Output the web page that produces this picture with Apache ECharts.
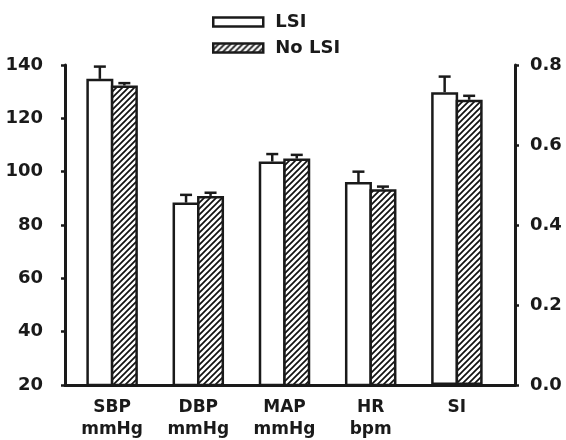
<!DOCTYPE html>
<html>
<head>
<meta charset="utf-8">
<script src="https://cdn.jsdelivr.net/npm/echarts@6/dist/echarts.min.js"></script>
<style>html,body{margin:0;padding:0;background:#fff}#chart{width:566px;height:440px}</style>
</head>
<body>
<div id="chart"></div>
<script>
const categories = ['SBP\nmmHg', 'DBP\nmmHg', 'MAP\nmmHg', 'HR\nbpm', 'SI'];
// categories read on the right-hand axis
const rightAxisCats = ['SI'];
const lsiMean = [134.8, 88.4, 103.8, 96.1, 0.732];
const lsiErr = [4.6, 2.9, 2.8, 3.9, 0.039];
const noLsiMean = [132.3, 90.9, 104.9, 93.4, 0.713];
const noLsiErr = [0.9, 1.2, 1.4, 1.0, 0.010];
const leftTicks = {min: 20, max: 140, interval: 20};
const rightTicks = {min: 0, max: 0.8, interval: 0.2};

const INK = '#1a1a1a';
const FONT = 'DejaVu Sans';
const BORDER = 2.5;
const BAR_W = 27;

const onRight = categories.map(c => rightAxisCats.includes(c));
const pick = (arr, right) => arr.map((v, i) => onRight[i] === right ? v : '-');

function hatch() {
  const c = document.createElement('canvas');
  c.width = 6; c.height = 6;
  const g = c.getContext('2d');
  g.fillStyle = '#fff';
  g.fillRect(0, 0, 6, 6);
  g.strokeStyle = '#111';
  g.lineWidth = 1.7;
  g.beginPath();
  g.moveTo(-1, 7); g.lineTo(7, -1);
  g.moveTo(-1, 1); g.lineTo(1, -1);
  g.moveTo(5, 7); g.lineTo(7, 5);
  g.stroke();
  return c;
}
const hatchFill = {image: hatch(), repeat: 'repeat'};

function errSeries(xi, yi, right) {
  const data = [];
  categories.forEach((c, i) => {
    if (onRight[i] !== right) return;
    data.push([i, lsiMean[i], lsiMean[i] + lsiErr[i], -1]);
    data.push([i, noLsiMean[i], noLsiMean[i] + noLsiErr[i], 1]);
  });
  return {
    type: 'custom', xAxisIndex: xi, yAxisIndex: yi, z: 5, silent: true,
    renderItem(params, api) {
      const side = api.value(3);
      const base = api.coord([api.value(0), api.value(1)]);
      const top = api.coord([api.value(0), api.value(2)]);
      const x = base[0] + side * (BAR_W - BORDER) / 2;
      const st = {stroke: INK, lineWidth: 2.5};
      return {type: 'group', children: [
        {type: 'line', shape: {x1: x, y1: base[1], x2: x, y2: top[1]}, style: st},
        {type: 'line', shape: {x1: x - 6, y1: top[1], x2: x + 6, y2: top[1]}, style: st}
      ]};
    },
    data
  };
}

function barSeries(name, mean, fill, xi, yi, right) {
  return {
    name, type: 'bar', xAxisIndex: xi, yAxisIndex: yi,
    data: pick(mean, right), barWidth: BAR_W, barGap: -BORDER / BAR_W,
    itemStyle: {color: fill, borderColor: INK, borderWidth: BORDER}
  };
}

const axisLine = {show: true, lineStyle: {color: INK, width: 3}};
const label = {color: INK, fontFamily: FONT, fontWeight: 'bold', fontSize: 18};

const chart = echarts.init(document.getElementById('chart'));
chart.setOption({
  animation: false,
  legend: {
    data: ['LSI', 'No LSI'],
    orient: 'vertical', left: 207, top: 7,
    itemWidth: 50, itemHeight: 9, itemGap: 6, icon: 'rect',
    itemStyle: {borderColor: INK, borderWidth: 2.5},
    textStyle: {color: INK, fontFamily: FONT, fontWeight: 'bold', fontSize: 18, lineHeight: 20, padding: [0, 0, 0, 7]}
  },
  grid: [
    {left: 65, right: 51, top: 65, bottom: 55, outerBoundsMode: 'none'},
    {left: 69, right: 66, top: 65, bottom: 55, outerBoundsMode: 'none'}
  ],
  xAxis: [
    {type: 'category', gridIndex: 0, data: categories, axisLine, axisTick: {show: false}, axisLabel: {show: false}},
    {type: 'category', gridIndex: 1, data: categories, axisLine: {show: false}, axisTick: {show: false},
      axisLabel: {color: INK, fontFamily: FONT, fontWeight: 'bold', fontSize: 17, lineHeight: 22, margin: 12, interval: 0}},
    {type: 'category', gridIndex: 1, data: categories, show: false}
  ],
  yAxis: [
    {type: 'value', gridIndex: 0, position: 'left', ...leftTicks, axisLine,
      axisTick: {show: true, length: 4, lineStyle: {color: INK, width: 2.5}},
      axisLabel: {...label, margin: 22}, splitLine: {show: false}},
    {type: 'value', gridIndex: 0, position: 'right', ...rightTicks, axisLine,
      axisTick: {show: true, length: 4, lineStyle: {color: INK, width: 2.5}},
      axisLabel: {...label, margin: 15, formatter: v => v.toFixed(1)}, splitLine: {show: false}},
    {type: 'value', gridIndex: 1, ...leftTicks, show: false, splitLine: {show: false}},
    {type: 'value', gridIndex: 1, ...rightTicks, show: false, splitLine: {show: false}}
  ],
  series: [
    barSeries('LSI', lsiMean, '#fff', 1, 2, false),
    barSeries('No LSI', noLsiMean, hatchFill, 1, 2, false),
    barSeries('LSI', lsiMean, '#fff', 2, 3, true),
    barSeries('No LSI', noLsiMean, hatchFill, 2, 3, true),
    errSeries(1, 2, false),
    errSeries(2, 3, true)
  ]
});
</script>
</body>
</html>
